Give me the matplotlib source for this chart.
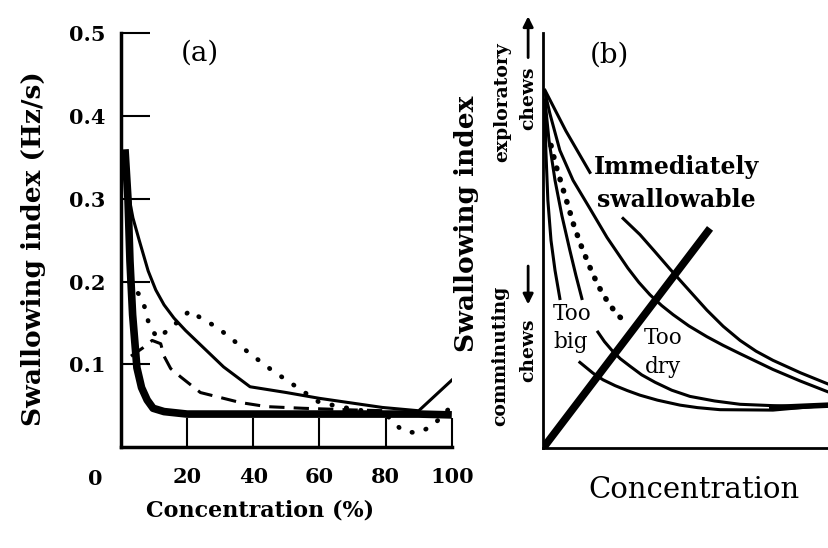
import numpy as np
import matplotlib
matplotlib.use('Agg')
import matplotlib.pyplot as plt

# ---- panel (a): swallowing index vs concentration ----
conc_thick = [1.2, 2.1, 2.7, 3.5, 4.8, 6.2, 7.9, 9.7, 13, 20, 40, 60, 80, 90, 100]
swal_thick = [0.36, 0.30, 0.225, 0.16, 0.096, 0.072, 0.057, 0.047, 0.043, 0.040,
              0.040, 0.040, 0.040, 0.040, 0.039]

conc_solid = [1.5, 2.5, 3.6, 5.5, 8.2, 10.5, 13, 16, 19.5, 31, 39, 50, 60, 79, 90, 100]
swal_solid = [0.33, 0.30, 0.277, 0.25, 0.213, 0.19, 0.172, 0.156, 0.141, 0.097,
              0.073, 0.066, 0.059, 0.048, 0.044, 0.081]

conc_dot = [2.5, 6.3, 7.6, 8.5, 11, 14.8, 20.8, 24.5, 29, 39, 45.6, 53, 60, 70, 80,
            85, 89.4, 94, 100]
swal_dot = [0.20, 0.180, 0.163, 0.147, 0.132, 0.143, 0.165, 0.155, 0.145, 0.113,
            0.093, 0.073, 0.054, 0.046, 0.040, 0.020, 0.017, 0.025, 0.05]

conc_dash = [3, 6.6, 9.4, 12, 13, 15, 18, 24, 36, 44, 55, 70, 80]
swal_dash = [0.11, 0.12, 0.129, 0.125, 0.11, 0.095, 0.085, 0.066, 0.054, 0.049,
             0.047, 0.045, 0.044]

yticks_a = [0.1, 0.2, 0.3, 0.4, 0.5]
xticks_a = [20, 40, 60, 80, 100]

# ---- panel (b): schematic, arbitrary units 0..100 ----
bx_A1 = [0.7, 8, 16.4]
by_A1 = [86.3, 76.5, 66.5]
bx_A2 = [28.0, 33.9, 39, 44.4, 50, 57.3, 63, 68.9, 74.5, 80.4, 90, 100]
by_A2 = [55.4, 51.5, 47.5, 43.2, 38.9, 33.3, 29.4, 26.0, 23.4, 21.2, 18.2, 15.4]

bx_B = [0.7, 2.4, 5.9, 10.5, 16.4, 22.4, 29.7, 33.5, 37.4, 41.5, 45.5, 51, 57.3, 63,
        68.9, 80.4, 90, 100]
by_B = [85.8, 80.7, 71.8, 64.6, 57.8, 50.8, 43.4, 40.0, 37.0, 34.4, 32.2, 29.5, 26.9,
        24.8, 22.8, 19.0, 16.2, 13.5]

bx_dot = [2.8, 4.5, 6.6, 8.7, 10.8, 13.3, 16.1, 19.2, 22.7, 26.2, 29.7]
by_dot = [73.0, 68.2, 63.4, 58.6, 53.7, 48.9, 44.1, 39.3, 35.2, 32.0, 30.1]

bx_E = [0.7, 1.0, 1.7, 2.8, 4.2, 5.9]
by_E = [83.9, 71.8, 59.8, 50.1, 42.9, 36.1]

bx_F = [0.7, 2.1, 4.2, 6.6, 9.4, 11.5, 13.6]
by_F = [83.9, 74.2, 64.6, 56.1, 47.7, 41.7, 36.1]

bx_H = [19.2, 21.5, 24.1, 27, 30.4, 34.5, 39.2, 45, 51.4, 60, 68.9, 86.4, 100]
by_H = [28.0, 25.7, 23.6, 21.6, 19.8, 17.7, 15.9, 14.0, 12.5, 11.4, 10.6, 10.1, 10.4]

bx_I = [12.9, 17.5, 21, 25.2, 29.5, 33.9, 40, 47.9, 54, 61.9, 80.4, 100]
by_I = [20.7, 18.1, 16.5, 15.1, 13.9, 12.8, 11.6, 10.4, 9.8, 9.3, 9.2, 10.4]

bx_line = [0, 58.4]
by_line = [0, 53.0]

plt.rcParams['font.family'] = 'DejaVu Serif'
plt.rcParams['lines.solid_joinstyle'] = 'round'

fig = plt.figure(figsize=(8.29, 5.48), dpi=100)

# panel (a)
ax1 = fig.add_axes([0.146, 0.184, 0.399, 0.755])
ax1.plot(conc_thick, swal_thick, '-k', lw=5.5, solid_capstyle='butt')
ax1.plot(conc_solid, swal_solid, '-k', lw=2.2)
ax1.plot(conc_dot, swal_dot, color='k', lw=3.4, linestyle=(0, (0.1, 3.0)),
         dash_capstyle='round')
ax1.plot(conc_dash, swal_dash, color='k', lw=2.2, linestyle=(0, (5, 3)))
ax1.set_xlim(0, 100)
ax1.set_ylim(0, 0.5)
ax1.spines['top'].set_visible(False)
ax1.spines['right'].set_visible(False)
ax1.spines['left'].set_linewidth(2.5)
ax1.spines['bottom'].set_linewidth(2.5)
ax1.set_yticks(yticks_a)
ax1.set_yticklabels(['%.1f' % v for v in yticks_a], fontweight='bold')
ax1.set_xticks(xticks_a)
ax1.set_xticklabels([str(v) for v in xticks_a], fontweight='bold')
ax1.tick_params(axis='y', direction='in', length=21, width=1.5, pad=11, labelsize=15)
ax1.tick_params(axis='x', direction='in', length=21, width=1.5, pad=14, labelsize=15)
ax1.text(-7.9, -0.026, '0', ha='center', va='top', fontsize=15, fontweight='bold',
         clip_on=False)
ax1.text(23.9, 0.476, '(a)', ha='center', va='center', fontsize=20)
ax1.text(42, -0.076, 'Concentration (%)', ha='center', va='center', fontsize=16,
         fontweight='bold', clip_on=False)
ax1.text(-26.5, 0.24, 'Swallowing index (Hz/s)', ha='center', va='center',
         rotation=90, fontsize=19, fontweight='bold', clip_on=False)

# panel (b)
ax2 = fig.add_axes([0.655, 0.182, 0.345, 0.757])
ax2.set_xlim(0, 100)
ax2.set_ylim(0, 100)
for seg_x, seg_y in [(bx_A1, by_A1), (bx_A2, by_A2), (bx_B, by_B), (bx_E, by_E),
                     (bx_F, by_F), (bx_H, by_H), (bx_I, by_I)]:
    ax2.plot(seg_x, seg_y, '-k', lw=2.2)
ax2.plot(bx_dot, by_dot, color='k', lw=4, linestyle=(0, (0.1, 2.0)),
         dash_capstyle='round')
ax2.plot([80, 100], [9.8, 10.4], '-k', lw=4)
ax2.plot(bx_line, by_line, '-k', lw=5.5, solid_capstyle='butt')
ax2.spines['top'].set_visible(False)
ax2.spines['right'].set_visible(False)
ax2.spines['left'].set_linewidth(2)
ax2.spines['bottom'].set_linewidth(2)
ax2.set_xticks([])
ax2.set_yticks([])

ax2.text(23.4, 94.7, '(b)', ha='center', va='center', fontsize=20)
ax2.text(17.8, 67.7, 'Immediately', ha='left', va='center', fontsize=17,
         fontweight='bold')
ax2.text(18.9, 59.8, 'swallowable', ha='left', va='center', fontsize=17,
         fontweight='bold')
ax2.text(3.5, 32.3, 'Too', ha='left', va='center', fontsize=15.5)
ax2.text(3.5, 25.5, 'big', ha='left', va='center', fontsize=15.5)
ax2.text(35.3, 26.7, 'Too', ha='left', va='center', fontsize=15.5)
ax2.text(35.7, 19.5, 'dry', ha='left', va='center', fontsize=15.5)
ax2.text(52.8, -10.1, 'Concentration', ha='center', va='center', fontsize=21,
         clip_on=False)
ax2.text(-26.6, 54, 'Swallowing index', ha='center', va='center', rotation=90,
         fontsize=19, fontweight='bold', clip_on=False)
ax2.text(-14.3, 83.4, 'exploratory', ha='center', va='center', rotation=90,
         fontsize=13.5, fontweight='bold', clip_on=False)
ax2.text(-5.2, 84.3, 'chews', ha='center', va='center', rotation=90,
         fontsize=13.5, fontweight='bold', clip_on=False)
ax2.text(-15, 22.4, 'comminuting', ha='center', va='center', rotation=90,
         fontsize=13.5, fontweight='bold', clip_on=False)
ax2.text(-5.2, 23.6, 'chews', ha='center', va='center', rotation=90,
         fontsize=13.5, fontweight='bold', clip_on=False)
ax2.annotate('', xy=(-5.2, 104.8), xytext=(-5.2, 93.5), annotation_clip=False,
             arrowprops=dict(arrowstyle='-|>', color='k', lw=2, mutation_scale=15))
ax2.annotate('', xy=(-5.2, 34.0), xytext=(-5.2, 44.6), annotation_clip=False,
             arrowprops=dict(arrowstyle='-|>', color='k', lw=2, mutation_scale=15))

fig.savefig('out.png', dpi=100)
